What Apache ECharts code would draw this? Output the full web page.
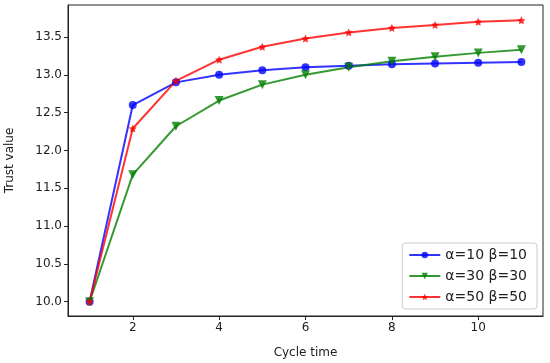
<!DOCTYPE html>
<html><head><meta charset="utf-8">
<script src="https://cdn.jsdelivr.net/npm/echarts@6/dist/echarts.min.js"></script>
<style>html,body{margin:0;padding:0;background:#fff}#c{width:550px;height:363px}</style>
</head><body><div id="c"></div>
<script>
const cycles = [1,2,3,4,5,6,7,8,9,10,11];
const blueVals = [10.0,12.6,12.9,13.0,13.06,13.1,13.12,13.14,13.15,13.16,13.17];
const greenVals = [10.0,11.68,12.32,12.66,12.87,13.0,13.1,13.18,13.24,13.29,13.33];
const redVals = [10.0,12.29,12.92,13.2,13.37,13.48,13.56,13.62,13.66,13.7,13.72];
const xTicks = [2,4,6,8,10];
const yTicks = [10.0,10.5,11.0,11.5,12.0,12.5,13.0,13.5];
const names = ['α=10 β=10','α=30 β=30','α=50 β=50'];

const star = 'path://M0,-10 L2.94,-4.05 9.51,-3.09 4.76,1.55 5.88,8.09 0,5 -5.88,8.09 -4.76,1.55 -9.51,-3.09 -2.94,-4.05Z';
const pair = v => cycles.map((c,i)=>[c,v[i]]);
const font = 'DejaVu Sans';
const chart = echarts.init(document.getElementById('c'));
function mk(name, vals, color, symbol, size, rot){
  return {name, type:'line', data:pair(vals), symbol, symbolSize:size, symbolRotate:rot||0,
    lineStyle:{color, width:2, opacity:0.8}, itemStyle:{color, opacity:0.8}, animation:false, z:3};
}
chart.setOption({
  animation:false,
  grid:{left:68, top:5, right:7, bottom:47, show:true, borderColor:'#222', borderWidth:1,
    containLabel:false, outerBoundsMode:'none'},
  xAxis:{type:'value', min:0.5, max:11.5,
    axisLine:{lineStyle:{color:'#222'}}, splitLine:{show:false},
    axisTick:{customValues:xTicks, length:4, lineStyle:{color:'#222'}},
    axisLabel:{customValues:xTicks, color:'#222', fontFamily:font, fontSize:12, margin:6},
    name:'Cycle time', nameLocation:'middle', nameGap:31,
    nameTextStyle:{color:'#222', fontFamily:font, fontSize:12}},
  yAxis:{type:'value', min:9.811, max:13.923,
    axisLine:{show:true, lineStyle:{color:'#222'}}, splitLine:{show:false},
    axisTick:{show:true, customValues:yTicks, length:4, lineStyle:{color:'#222'}},
    axisLabel:{customValues:yTicks, color:'#222', fontFamily:font, fontSize:12, margin:6,
      formatter:v=>v.toFixed(1)},
    name:'Trust value', nameLocation:'middle', nameGap:52,
    nameTextStyle:{color:'#222', fontFamily:font, fontSize:12}},
  legend:{orient:'vertical', right:13, bottom:54, itemWidth:31, itemHeight:8, itemGap:7,
    backgroundColor:'#fff', borderColor:'#ccc', borderWidth:1, borderRadius:3,
    padding:[5,10,5,6],
    textStyle:{color:'#222', fontFamily:font, fontSize:14},
    data:names},
  series:[
    mk(names[0], blueVals, '#0000ff', 'circle', 8),
    mk(names[1], greenVals, '#008000', 'triangle', 9, 180),
    mk(names[2], redVals, '#ff0000', star, 8)
  ]
});
</script></body></html>
